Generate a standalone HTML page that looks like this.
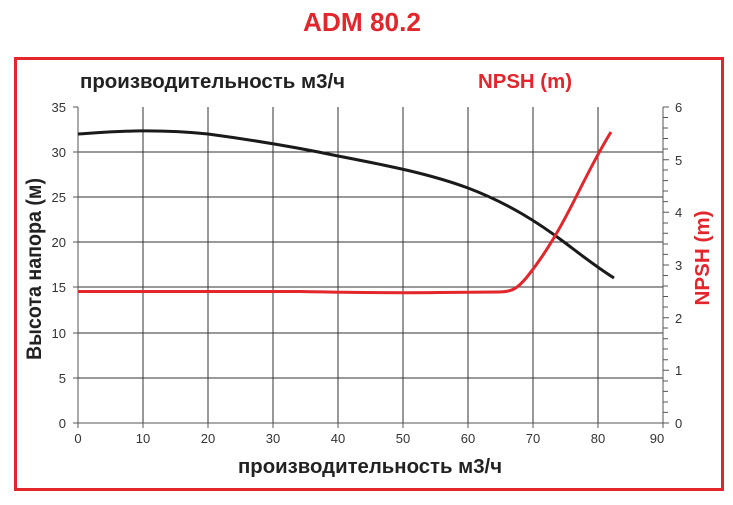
<!DOCTYPE html>
<html><head><meta charset="utf-8"><style>
body{margin:0;background:#fff;width:733px;height:500px;overflow:hidden}
text{font-family:"Liberation Sans",sans-serif}
</style></head><body>
<svg width="733" height="500" viewBox="0 0 733 500" xmlns="http://www.w3.org/2000/svg">
<text x="362" y="31" text-anchor="middle" font-size="26" font-weight="bold" fill="#e2262c" textLength="118" lengthAdjust="spacingAndGlyphs">ADM 80.2</text>
<rect x="15.5" y="58.5" width="707" height="431" fill="none" stroke="#e2262c" stroke-width="3"/>
<text x="80" y="88" font-size="20" font-weight="bold" fill="#222" textLength="265" lengthAdjust="spacingAndGlyphs">производительность м3/ч</text>
<text x="478" y="88" font-size="20" font-weight="bold" fill="#e2262c" textLength="94" lengthAdjust="spacingAndGlyphs">NPSH (m)</text>
<g stroke="#333" stroke-width="1">
<line x1="143" y1="107" x2="143" y2="423"/><line x1="208" y1="107" x2="208" y2="423"/>
<line x1="273" y1="107" x2="273" y2="423"/><line x1="338" y1="107" x2="338" y2="423"/>
<line x1="403" y1="107" x2="403" y2="423"/><line x1="468" y1="107" x2="468" y2="423"/>
<line x1="533" y1="107" x2="533" y2="423"/><line x1="598" y1="107" x2="598" y2="423"/>
<line x1="78" y1="152" x2="663" y2="152"/><line x1="78" y1="197" x2="663" y2="197"/>
<line x1="78" y1="242" x2="663" y2="242"/><line x1="78" y1="287" x2="663" y2="287"/>
<line x1="78" y1="333" x2="663" y2="333"/><line x1="78" y1="378" x2="663" y2="378"/>
</g>
<g stroke="#555" stroke-width="1">
<line x1="78" y1="107" x2="78" y2="423"/><line x1="663" y1="107" x2="663" y2="428"/>
<line x1="73" y1="423" x2="663" y2="423"/>
<line x1="73" y1="107" x2="78" y2="107"/><line x1="73" y1="152" x2="78" y2="152"/><line x1="73" y1="197" x2="78" y2="197"/><line x1="73" y1="242" x2="78" y2="242"/><line x1="73" y1="287" x2="78" y2="287"/><line x1="73" y1="333" x2="78" y2="333"/><line x1="73" y1="378" x2="78" y2="378"/>
<line x1="78" y1="423" x2="78" y2="428"/><line x1="143" y1="423" x2="143" y2="428"/><line x1="208" y1="423" x2="208" y2="428"/><line x1="273" y1="423" x2="273" y2="428"/><line x1="338" y1="423" x2="338" y2="428"/><line x1="403" y1="423" x2="403" y2="428"/><line x1="468" y1="423" x2="468" y2="428"/><line x1="533" y1="423" x2="533" y2="428"/><line x1="598" y1="423" x2="598" y2="428"/>
</g>
<g font-size="13" fill="#333" text-anchor="end">
<text x="66" y="112">35</text><text x="66" y="157">30</text><text x="66" y="202">25</text><text x="66" y="247">20</text><text x="66" y="292">15</text><text x="66" y="338">10</text><text x="66" y="383">5</text><text x="66" y="428">0</text>
</g>
<g font-size="13" fill="#333" text-anchor="start">
<text x="675" y="112">6</text><text x="675" y="165">5</text><text x="675" y="217">4</text><text x="675" y="270">3</text><text x="675" y="323">2</text><text x="675" y="375">1</text><text x="675" y="428">0</text>
</g>
<g font-size="13" fill="#333" text-anchor="middle">
<text x="78" y="443">0</text><text x="143" y="443">10</text><text x="208" y="443">20</text><text x="273" y="443">30</text><text x="338" y="443">40</text><text x="403" y="443">50</text><text x="468" y="443">60</text><text x="533" y="443">70</text><text x="598" y="443">80</text><text x="657" y="443">90</text>
</g>
<text x="370" y="473" text-anchor="middle" font-size="20" font-weight="bold" fill="#222" textLength="264" lengthAdjust="spacingAndGlyphs">производительность м3/ч</text>
<text transform="translate(41,269) rotate(-90)" text-anchor="middle" font-size="21" font-weight="bold" fill="#222" textLength="182" lengthAdjust="spacingAndGlyphs">Высота напора (м)</text>
<text transform="translate(709,258) rotate(-90)" text-anchor="middle" font-size="20" font-weight="bold" fill="#e2262c" textLength="95" lengthAdjust="spacingAndGlyphs">NPSH (m)</text>
<path d="M78,134 C110,132 150,128 208,134 C260,141 300,148 338,156 C390,166 430,174 468,188 C510,204 540,224 564,242 C580,254 595,266 614,278" fill="none" stroke="#1a1a1a" stroke-width="3"/>
<path d="M78,291.5 L300,291.5 C350,292.5 400,293 440,292.5 L498,292 C512,292 517,289 527,277 C547,252 562,225 577,195 C592,165 601,148 611,132" fill="none" stroke="#e2262c" stroke-width="3"/>
<g stroke="#555" stroke-width="1">
<path d="M663,117.5h5M663,128h5M663,138.5h5M663,149h5M663,159.7h6M663,170h5M663,180.6h5M663,191h5M663,201.6h5M663,212.3h6M663,223h5M663,233.3h5M663,244h5M663,254.4h5M663,265h6M663,275.5h5M663,286h5M663,296.5h5M663,307h5M663,317.7h6M663,328h5M663,338.7h5M663,349h5M663,359.7h5M663,370.3h6M663,381h5M663,391.4h5M663,402h5M663,412.4h5M663,107h6M663,423h6"/>
</g>
</svg>
</body></html>
